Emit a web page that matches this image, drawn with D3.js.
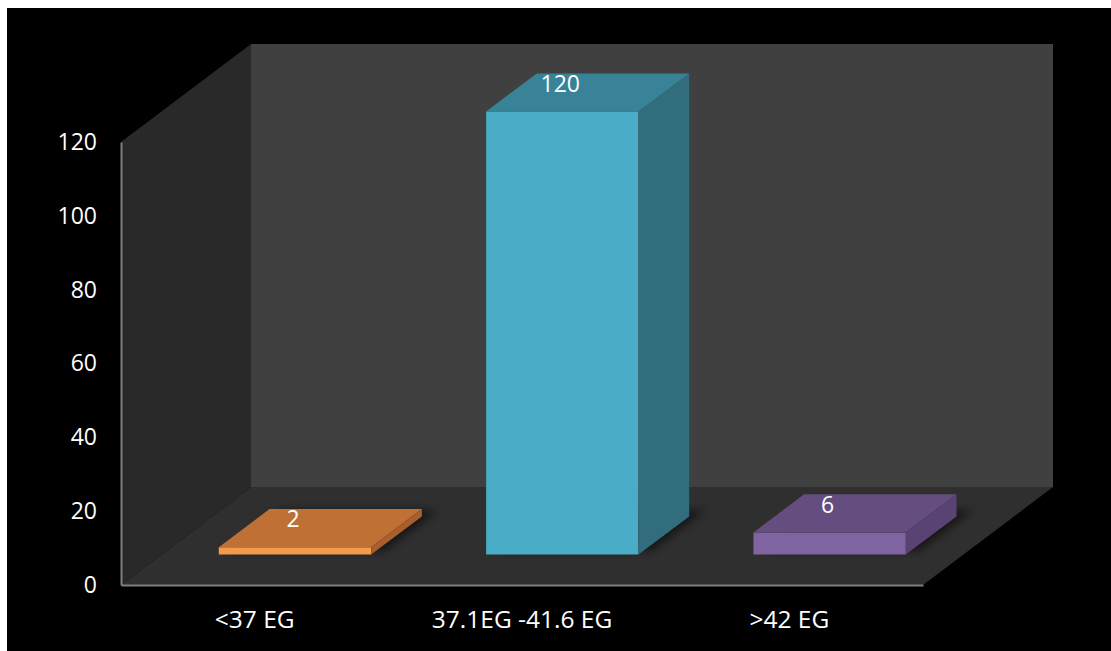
<!DOCTYPE html>
<style>
  body { margin: 0; background: white; }
  svg { display: block; }
  text { font-family: "Open Sans", sans-serif; fill: white; }
  .axis path { stroke: #7f7f7f; stroke-width: 2; }
  .axis text { font-size: 23px; fill: white; font-family: "Open Sans", sans-serif; }
  .axis.cat text { font-size: 24.5px; }
</style>
<body>
</body>
<script src="https://cdn.jsdelivr.net/npm/d3@7"></script>
<script>
  const categories = ['<37 EG', '37.1EG -41.6 EG', '>42 EG'];
  const values = [2, 120, 6];
  const yTicks = [0, 20, 40, 60, 80, 100, 120];
  const faceColors = [
    {front: '#f39a4d', top: '#be7035', side: '#a85f2c'},
    {front: '#4aacc6', top: '#398398', side: '#316d7d'},
    {front: '#8064a2', top: '#654d80', side: '#584373'}
  ];

  const W = 1111, H = 651;
  const l = 121, r = 923, b = 585, t = 142;
  const depth = {dx: 130, dy: -98};
  const f0 = 0.31, f1 = 0.7;

  const svg = d3.select('body').append('svg')
    .attr('width', W)
    .attr('height', H);

  svg.append('rect')
    .attr('x', 7).attr('y', 8)
    .attr('width', W - 7).attr('height', H - 8)
    .attr('fill', 'black');

  const defs = svg.append('defs');
  defs.append('filter').attr('id', 'shadow')
    .attr('x', '-20%').attr('y', '-20%').attr('width', '140%').attr('height', '140%')
    .append('feGaussianBlur').attr('stdDeviation', 4);

  const x = d3.scaleBand().domain(categories).range([l, r])
    .paddingInner(0.43).paddingOuter(0.215);
  const y = d3.scaleLinear().domain([0, 120]).range([b, t]);

  const proj = (px, py, f) => [px + f * depth.dx, py + f * depth.dy];
  const pts = a => a.map(p => p.join(',')).join(' ');

  // walls
  const walls = svg.append('g');
  walls.append('polygon')
    .attr('points', pts([proj(l, b, 1), proj(r, b, 1), proj(r, t, 1), proj(l, t, 1)]))
    .attr('fill', '#404040');
  walls.append('polygon')
    .attr('points', pts([proj(l, b, 0), proj(l, t, 0), proj(l, t, 1), proj(l, b, 1)]))
    .attr('fill', '#292929');
  walls.append('polygon')
    .attr('points', pts([proj(l, b, 0), proj(r, b, 0), proj(r, b, 1), proj(l, b, 1)]))
    .attr('fill', '#2f2f2f');

  const data = categories.map((c, i) => ({c, v: values[i], col: faceColors[i]}));

  // shadows on the floor
  svg.append('g').selectAll('polygon')
    .data(data)
    .join('polygon')
    .attr('points', d => {
      const x0 = x(d.c), x1 = x(d.c) + x.bandwidth();
      return pts([proj(x0 + 4, b, f0 + 0.04), proj(x1 + 8, b, f0 + 0.04),
                  proj(x1 + 8, b, f1 + 0.06), proj(x0 + 4, b, f1 + 0.06)]);
    })
    .attr('fill', 'black')
    .attr('opacity', 0.55)
    .attr('filter', 'url(#shadow)');

  const bars = svg.append('g').selectAll('g')
    .data(data)
    .join('g');

  // front face
  bars.append('polygon')
    .attr('points', d => {
      const x0 = x(d.c), x1 = x(d.c) + x.bandwidth(), yt = y(d.v);
      return pts([proj(x0, b, f0), proj(x1, b, f0), proj(x1, yt, f0), proj(x0, yt, f0)]);
    })
    .attr('fill', d => d.col.front);

  // side face
  bars.append('polygon')
    .attr('points', d => {
      const x1 = x(d.c) + x.bandwidth(), yt = y(d.v);
      return pts([proj(x1, b, f0), proj(x1, b, f1), proj(x1, yt, f1), proj(x1, yt, f0)]);
    })
    .attr('fill', d => d.col.side);

  // top face
  bars.append('polygon')
    .attr('points', d => {
      const x0 = x(d.c), x1 = x(d.c) + x.bandwidth(), yt = y(d.v);
      return pts([proj(x0, yt, f0), proj(x1, yt, f0), proj(x1, yt, f1), proj(x0, yt, f1)]);
    })
    .attr('fill', d => d.col.top);

  // data labels
  bars.append('text')
    .attr('x', d => proj(x(d.c) + x.bandwidth() / 2, y(d.v), f0)[0] - 2)
    .attr('y', d => proj(0, y(d.v), f0)[1] - 28)
    .attr('dy', '0.35em')
    .attr('text-anchor', 'middle')
    .attr('font-size', 23)
    .text(d => d.v);

  // axes
  svg.append('g')
    .attr('class', 'axis')
    .attr('transform', `translate(${l}, 0)`)
    .call(d3.axisLeft(y).tickValues(yTicks).tickSize(0).tickSizeOuter(0).tickPadding(24))
    .call(g => g.selectAll('.tick line').remove());

  svg.append('g')
    .attr('class', 'axis cat')
    .attr('transform', `translate(0, ${b})`)
    .call(d3.axisBottom(x).tickSize(0).tickSizeOuter(0).tickPadding(26))
    .call(g => g.selectAll('.tick line').remove());
</script>
